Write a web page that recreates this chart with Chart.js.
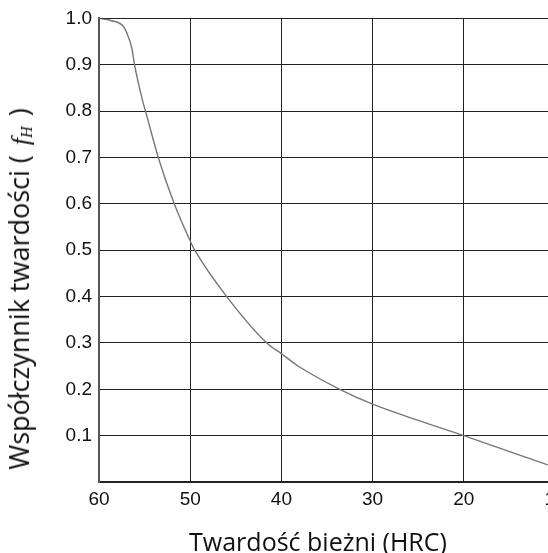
<!DOCTYPE html>
<html lang="pl">
<head>
<meta charset="utf-8">
<title>Współczynnik twardości</title>
<script src="https://cdn.jsdelivr.net/npm/chart.js@4/dist/chart.umd.min.js"></script>
<style>
  html, body { margin: 0; padding: 0; background: #fff; overflow: hidden; width: 548px; height: 553px; }
  #wrap { position: relative; width: 548px; height: 553px; }
  canvas { position: absolute; left: 0; top: 0; }
  .tytul { position: absolute; font-family: "Open Sans", sans-serif; font-size: 25px; line-height: 34px; color: #111; white-space: nowrap; }
  #tytul-x { left: 318px; top: 524px; transform: translateX(-50%); }
  #tytul-y { left: 23px; top: 289px; font-size: 27px; line-height: 36px; transform: translate(-50%, -50%) rotate(-90deg); }
  .mat { font-family: "Liberation Serif", "DejaVu Serif", serif; font-style: italic; font-size: 26px; margin: 0 3px; }
  .mat sub { font-size: 16px; vertical-align: -3px; }
</style>
</head>
<body>
<div id="wrap">
  <canvas id="wykres" width="575" height="553"></canvas>
  <div class="tytul" id="tytul-y">Współczynnik twardości ( <span class="mat">f<sub>H</sub></span> )</div>
  <div class="tytul" id="tytul-x">Twardość bieżni (HRC)</div>
</div>
<script>
// ── Dane ──────────────────────────────────────────────────────
const twardoscHRC   = [60, 58.6, 57.3, 56.8, 56.4, 56.1, 55.2, 54.9, 53.5, 51.75, 50, 49.5, 46, 41.6, 40, 38, 33.6, 30, 25, 20, 10.8];
const wspolczynnikH = [1.0, 0.995, 0.982, 0.961, 0.936, 0.9, 0.821, 0.8, 0.7, 0.6, 0.52, 0.5, 0.4, 0.3, 0.277, 0.248, 0.2, 0.168, 0.133, 0.1, 0.037];
const ticksX = [60, 50, 40, 30, 20, 10];
const ticksY = [0, 0.1, 0.2, 0.3, 0.4, 0.5, 0.6, 0.7, 0.8, 0.9, 1.0];

const punkty = twardoscHRC.map((x, i) => ({ x, y: wspolczynnikH[i] }));
const fontTick = { family: '"Liberation Sans", Arial, sans-serif', size: 19 };

// obszar wykresu wychodzi poza okno z prawej (etykieta "10" jest ucięta)
new Chart(document.getElementById('wykres'), {
  type: 'line',
  data: {
    datasets: [{
      data: punkty,
      borderColor: '#777',
      borderWidth: 1.4,
      pointRadius: 0,
      cubicInterpolationMode: 'monotone',
      fill: false
    }]
  },
  options: {
    responsive: false,
    animation: false,
    devicePixelRatio: 1,
    layout: { padding: { top: 17, right: 20, bottom: 0, left: 0 } },
    plugins: { legend: { display: false }, tooltip: { enabled: false } },
    scales: {
      x: {
        type: 'linear', reverse: true, min: 10, max: 60,
        afterBuildTicks: s => { s.ticks = ticksX.map(v => ({ value: v })); },
        afterFit: s => { s.height = 71; },
        ticks: { color: '#111', font: fontTick, padding: 6, maxRotation: 0, autoSkip: false },
        grid: { color: '#222', lineWidth: 1, drawTicks: false },
        border: { color: '#222', width: 1.5 }
      },
      y: {
        type: 'linear', min: 0, max: 1,
        afterBuildTicks: s => { s.ticks = ticksY.map(v => ({ value: v })); },
        afterFit: s => { s.width = 99; },
        ticks: { color: '#111', font: fontTick, padding: 7, autoSkip: false,
                 callback: v => v === 0 ? '' : v.toFixed(1) },
        grid: { color: '#222', lineWidth: 1, drawTicks: false },
        border: { color: '#555', width: 2 }
      }
    }
  }
});
</script>
</body>
</html>
